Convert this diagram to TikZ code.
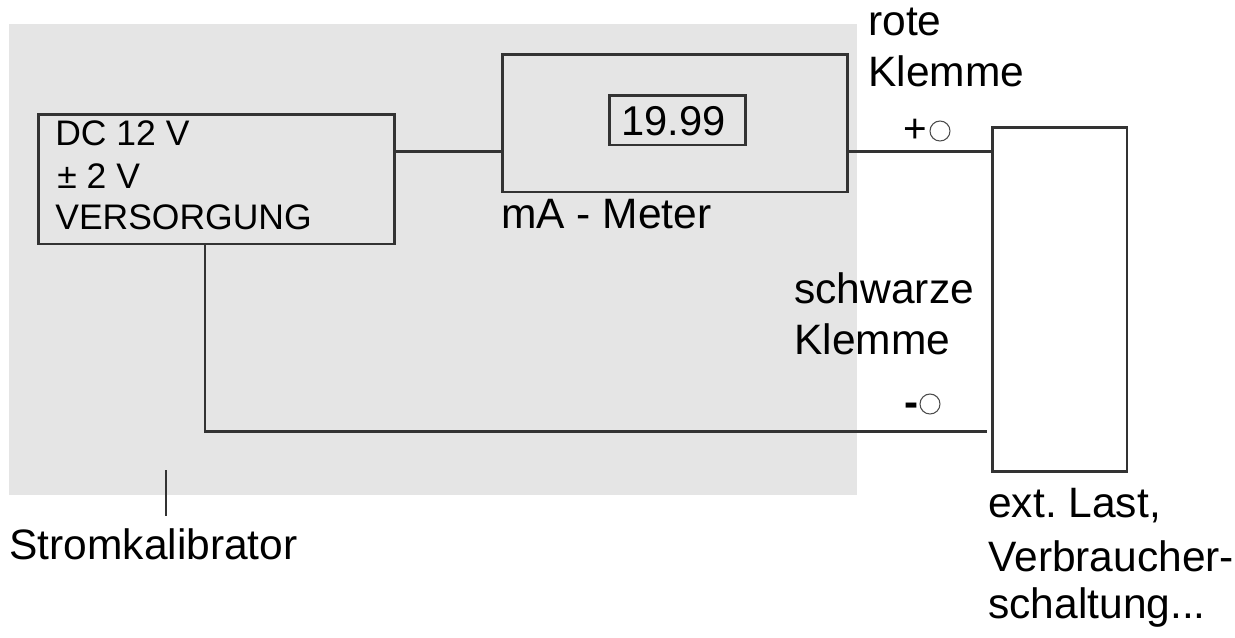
\documentclass[tikz,border=0pt]{standalone}
\usepackage{fontspec}
\setmainfont{Liberation Sans}
\frenchspacing
\definecolor{panelgray}{RGB}{229,229,229}
\tikzset{x=0.02cm,y=-0.02cm,
	box/.style={draw=black!80,line width=1.7pt,inner sep=0pt},
	txt/.style={anchor=base west,inner sep=0pt,font=\fontsize{24.2}{24.2}\selectfont,text=black},
	small/.style={txt,font=\fontsize{20.2}{20.2}\selectfont},
	wire/.style={draw=black!80,line width=1.7pt},
	klemme/.style={circle,draw=black!70,line width=0.6pt,minimum size=0.4cm,inner sep=0pt}}
\begin{document}
\begin{tikzpicture}
	\useasboundingbox (0,0) rectangle (1235,637);
	\fill[panelgray] (9,24) rectangle (857,495);
	% kaesten
	\node[box,minimum width=7.14cm,minimum height=2.6cm] (versorgung) at (216.5,179) {};
	\node[box,minimum width=6.92cm,minimum height=2.76cm] (meter) at (675,123) {};
	\node[box,minimum width=2.74cm,minimum height=1cm] (anzeige) at (677.5,120) {};
	\node[box,minimum width=2.7cm,minimum height=6.9cm] (last) at (1059.5,299.5) {};
	% texte
	\node[small] (t1) at (55,145) {DC 12 V};
	\node[small] (t2) at (57,188) {± 2 V};
	\node[small] (t3) at (55,229) {VERSORGUNG};
	\node[txt,font=\fontsize{23.7}{23.7}\selectfont] (wert) at (621,135) {19.99};
	\node[txt] (ma) at (501,228) {mA - Meter};
	\node[txt] (rot1) at (868,35) {rote};
	\node[txt] (rot2) at (868,86) {Klemme};
	\node[txt] (sw1) at (794,303) {schwarze};
	\node[txt] (sw2) at (794,354) {Klemme};
	\node[txt,font=\fontsize{23}{23}\selectfont] (plus) at (903,142) {+};
	\node[txt,font=\fontsize{24}{24}\bfseries\selectfont] (minus) at (904,416) {-};
	\node[klemme] (plusklemme) at (940,131) {};
	\node[klemme] (minusklemme) at (930,404) {};
	\node[txt] (kal) at (9,559) {Stromkalibrator};
	\node[txt] (l1) at (988,517) {ext. Last,};
	\node[txt] (l2) at (988,571) {Verbraucher-};
	\node[txt] (l3) at (988,618) {schaltung...};
	% leitungen
	\draw[wire] (versorgung.east |- 0,151) -- (meter.west |- 0,151);
	\draw[wire] (meter.east |- 0,151) -- (last.west |- 0,151);
	\coordinate (knick) at (205,431);
	\coordinate (lastende) at (987,431);
	\draw[wire] (205,245) -- (knick) -- (lastende);
	\coordinate (zeiger) at (166,470);
	\coordinate (zeigerende) at (166,516);
	\draw[wire,line width=1pt] (zeiger) -- (zeigerende);
\end{tikzpicture}
\end{document}
